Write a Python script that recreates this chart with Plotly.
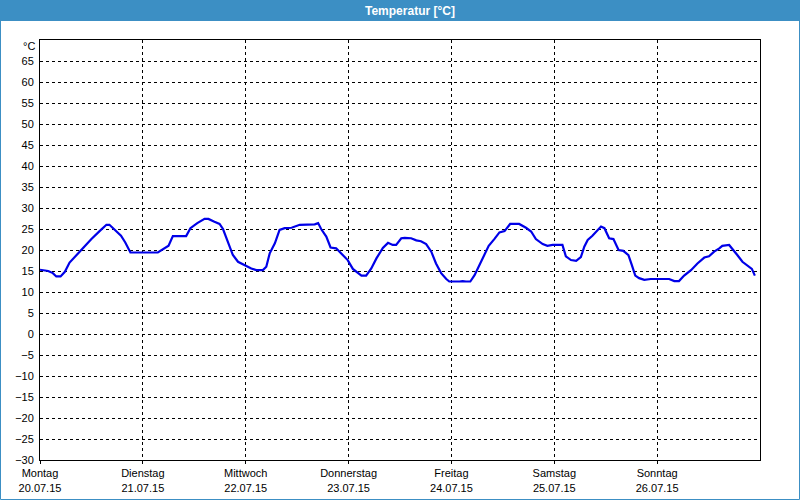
"""
Temperaturverlauf einer Woche (20.07.15 - 26.07.15)
"""

import plotly.graph_objects as go
import pandas as pd

# Messwerte: Stunden seit Montag 00:00 und Temperatur in °C
hours = [
    0.0, 1.9, 3.0, 3.8, 4.8, 5.8, 6.9, 8.5, 10.0, 12.0,
    13.9, 15.5, 16.2, 17.8, 18.9, 19.9, 21.1, 27.5, 29.1, 30.0,
    31.0, 34.1, 35.1, 36.7, 38.4, 39.3, 40.7, 41.9, 42.7, 43.9,
    45.0, 46.2, 47.8, 49.3, 50.5, 52.0, 52.8, 53.6, 54.8, 55.9,
    57.1, 58.7, 60.6, 62.1, 64.1, 64.9, 65.6, 66.8, 67.8, 69.1,
    70.3, 71.8, 73.0, 74.2, 75.0, 76.1, 77.3, 78.5, 80.0, 81.2,
    82.3, 83.1, 84.3, 85.1, 86.6, 87.8, 88.9, 90.1, 91.3, 92.4,
    93.6, 94.8, 95.5, 97.9, 98.6, 99.4, 100.4, 101.4, 102.5, 103.7,
    104.7, 106.0, 107.2, 108.4, 109.7, 111.8, 113.4, 114.6, 115.7, 117.3,
    118.4, 119.6, 120.8, 121.9, 122.7, 123.9, 125.1, 126.2, 127.0, 127.8,
    128.9, 130.1, 130.9, 131.7, 132.8, 133.8, 135.0, 136.1, 137.3, 138.1,
    138.9, 139.8, 141.0, 142.5, 146.8, 148.0, 149.1, 150.3, 151.9, 153.4,
    155.0, 156.1, 157.3, 158.5, 159.2, 160.8, 161.5, 162.7, 163.9, 165.0,
    166.1, 166.8,
]
temps = [
    15.3, 15.0, 14.5, 13.7, 13.7, 14.8, 17.0, 18.8, 20.6, 22.6,
    24.5, 26.0, 26.0, 24.5, 23.4, 21.8, 19.4, 19.4, 20.4, 21.0,
    23.3, 23.3, 25.2, 26.4, 27.4, 27.4, 26.7, 26.2, 25.0, 22.0,
    18.8, 17.2, 16.3, 15.6, 15.2, 15.2, 16.0, 19.2, 21.6, 24.8,
    25.2, 25.3, 26.0, 26.1, 26.1, 26.4, 25.0, 23.2, 20.6, 20.4,
    19.2, 17.6, 15.5, 14.5, 13.9, 13.9, 15.6, 18.0, 20.5, 21.7,
    21.2, 21.2, 22.8, 22.9, 22.8, 22.3, 22.1, 21.4, 19.6, 16.8,
    14.5, 13.1, 12.5, 12.5, 12.6, 12.5, 12.5, 14.0, 16.4, 18.8,
    21.0, 22.6, 24.2, 24.5, 26.2, 26.2, 25.3, 24.4, 22.6, 21.4,
    21.0, 21.2, 21.2, 21.2, 18.5, 17.6, 17.4, 18.3, 20.8, 22.4,
    23.4, 24.8, 25.6, 25.2, 22.8, 22.6, 20.0, 19.8, 18.8, 16.4,
    13.9, 13.3, 12.9, 13.1, 13.1, 12.6, 12.6, 13.9, 15.2, 16.8,
    18.2, 18.5, 19.6, 20.4, 21.0, 21.2, 20.4, 18.8, 17.2, 16.3,
    15.5, 13.9,
]

# Achsenbeschriftungen
day_names = ['Montag', 'Dienstag', 'Mittwoch', 'Donnerstag', 'Freitag', 'Samstag', 'Sonntag']
day_dates = ['20.07.15', '21.07.15', '22.07.15', '23.07.15', '24.07.15', '25.07.15', '26.07.15']
y_ticks = list(range(-30, 70, 5))

start = pd.Timestamp('2015-07-20')
times = start + pd.to_timedelta(hours, unit='h')
day_ticks = [start + pd.Timedelta(days=i) for i in range(len(day_names))]

FONT = 'Liberation Sans'
BLUE_BAR = '#3c8fc4'

fig = go.Figure()

fig.add_trace(
    go.Scatter(
        x=times, y=temps,
        mode='lines',
        line=dict(color='#0000e8', width=2.2),
        showlegend=False
    )
)

# Titelleiste und Fensterrahmen (Pixel -> Papierkoordinaten)
W, H = 800, 500
L, R, T, B = 40, 40, 40, 40
pw, ph = W - L - R, H - T - B


def px(xp):
    return (xp - L) / pw


def py(yp):
    return (H - B - yp) / ph


fig.add_shape(type='rect', xref='paper', yref='paper',
              x0=px(0), x1=px(W), y0=py(21), y1=py(0),
              fillcolor=BLUE_BAR, line_width=0, layer='below')
fig.add_shape(type='rect', xref='paper', yref='paper',
              x0=px(0.5), x1=px(W - 0.5), y0=py(H - 0.5), y1=py(0),
              fillcolor='rgba(0,0,0,0)', line=dict(color=BLUE_BAR, width=1))

fig.add_annotation(
    text='<b>Temperatur [°C]</b>',
    xref='paper', yref='paper', x=px(410), y=py(10.5),
    xanchor='center', yanchor='middle', showarrow=False,
    font=dict(family=FONT, size=12, color='white')
)
fig.add_annotation(
    text='°C',
    xref='paper', yref='paper', x=px(37), y=py(46),
    xanchor='right', yanchor='middle', showarrow=False,
    font=dict(family=FONT, size=11, color='black')
)

fig.update_layout(
    width=W, height=H,
    margin=dict(l=L, r=R, t=T, b=B, pad=0, autoexpand=False),
    paper_bgcolor='white',
    plot_bgcolor='white',
    font=dict(family=FONT, size=11, color='black'),
    showlegend=False
)

fig.update_xaxes(
    type='date',
    range=[start, start + pd.Timedelta(days=7)],
    tickvals=day_ticks,
    ticktext=[f'{n}<br>{d}' for n, d in zip(day_names, day_dates)],
    ticks='outside', ticklen=3, tickcolor='black',
    showgrid=True, gridcolor='black', griddash='3px,3px', gridwidth=1,
    showline=True, linecolor='black', linewidth=1, mirror=True,
    zeroline=False, fixedrange=True, automargin=False
)

fig.update_yaxes(
    range=[-30, 70],
    tickvals=y_ticks,
    ticks='', ticklabelstandoff=3,
    showgrid=True, gridcolor='black', griddash='3px,3px', gridwidth=1,
    showline=True, linecolor='black', linewidth=1, mirror=True,
    zeroline=False, fixedrange=True, automargin=False
)

# Seitenrand des Browsers entfernen, damit die Grafik bei (0, 0) beginnt
fig.write_html('out.html', config={'displayModeBar': False},
               post_script="document.body.style.margin='0';")
